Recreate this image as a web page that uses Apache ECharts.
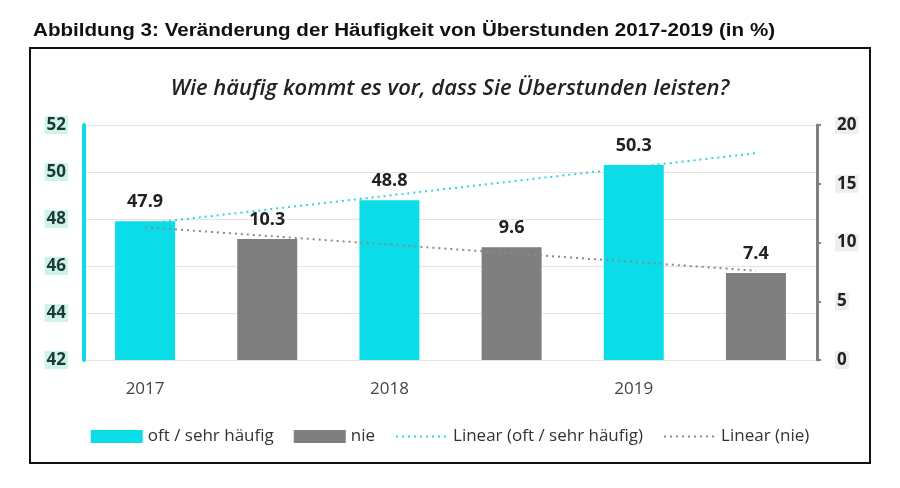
<!DOCTYPE html>
<html>
<head>
<meta charset="utf-8">
<script src="https://cdn.jsdelivr.net/npm/echarts@6/dist/echarts.min.js"></script>
<style>
html,body{margin:0;padding:0;background:#fff;}
#c{width:900px;height:488px;}
</style>
</head>
<body>
<div id="c"></div>
<script>
var categories = ['2017', '', '2018', '', '2019', ''];
var oftValues = [47.9, null, 48.8, null, 50.3, null];
var nieValues = [null, 10.3, null, 9.6, null, 7.4];
var trendOft = [47.8, null, null, null, null, 50.8];
var trendNie = [11.3, null, null, null, null, 7.6];
var leftTicks = [42, 44, 46, 48, 50, 52];
var rightTicks = [0, 5, 10, 15, 20];

var CYAN = '#0ADCE8';
var GRAY = '#7F7F7F';

var chart = echarts.init(document.getElementById('c'), null, {renderer: 'canvas'});
var option = {
  animation: false,
  graphic: [
    {type: 'rect', shape: {x: 30, y: 48, width: 840, height: 415}, style: {fill: 'none', stroke: '#111', lineWidth: 2}, z: 0},
    {type: 'text', x: 33, y: 22, scaleX: 1.145, scaleY: 1,
     style: {text: 'Abbildung 3: Veränderung der Häufigkeit von Überstunden 2017-2019 (in %)',
       font: 'bold 18px "Liberation Sans"', fill: '#111'}}
  ],
  title: [
    {text: 'Wie häufig kommt es vor, dass Sie Überstunden leisten?', left: 'center', top: 73,
     textStyle: {fontFamily: 'Open Sans', fontStyle: 'italic', fontWeight: 600, fontSize: 22, color: '#222'}}
  ],
  legend: {
    left: 'center', top: 423, itemGap: 20, itemWidth: 52, itemHeight: 13,
    textStyle: {fontFamily: 'Open Sans', fontSize: 17, color: '#333'},
    data: [
      {name: 'oft / sehr häufig', icon: 'rect'},
      {name: 'nie', icon: 'rect'},
      {name: 'Linear (oft / sehr häufig)', itemStyle: {opacity: 0}},
      {name: 'Linear (nie)', itemStyle: {opacity: 0}}
    ]
  },
  grid: {left: 84, right: 83, top: 125, bottom: 128},
  xAxis: {
    type: 'category', data: categories,
    axisLine: {show: false}, axisTick: {show: false},
    axisLabel: {interval: 0, margin: 21, fontFamily: 'Open Sans', fontSize: 17, color: '#444'}
  },
  yAxis: [
    {type: 'value', min: 42, max: 52, interval: 2, position: 'left',
     axisLine: {show: true, lineStyle: {color: CYAN, width: 4}},
     axisTick: {show: false},
     splitLine: {show: true, lineStyle: {color: '#e4e4e4', width: 1}},
     axisLabel: {margin: 16, fontFamily: 'Open Sans', fontWeight: 'bold', fontSize: 17, color: '#1c3a32',
       backgroundColor: '#cdf3ec', padding: [1, 2, 0, 2]}},
    {type: 'value', min: 0, max: 20, interval: 5, position: 'right',
     axisLine: {show: true, lineStyle: {color: GRAY, width: 3}},
     axisTick: {show: true, length: 4, lineStyle: {color: GRAY, width: 2}},
     splitLine: {show: false},
     axisLabel: {margin: 18, fontFamily: 'Open Sans', fontWeight: 'bold', fontSize: 17, color: '#222',
       backgroundColor: '#eeeeee', padding: [1, 2, 0, 2]}}
  ],
  series: [
    {name: 'oft / sehr häufig', type: 'bar', yAxisIndex: 0, data: oftValues, barWidth: 60, barGap: '-100%',
     itemStyle: {color: CYAN},
     label: {show: true, position: 'top', distance: 10, fontFamily: 'Open Sans', fontWeight: 'bold', fontSize: 18, color: '#222'}},
    {name: 'nie', type: 'bar', yAxisIndex: 1, data: nieValues, barWidth: 60,
     itemStyle: {color: GRAY},
     label: {show: true, position: 'top', distance: 10, fontFamily: 'Open Sans', fontWeight: 'bold', fontSize: 18, color: '#222'}},
    {name: 'Linear (oft / sehr häufig)', type: 'line', yAxisIndex: 0, data: trendOft, connectNulls: true,
     symbol: 'none', lineStyle: {color: '#2fd3d6', width: 2, type: [2, 4]}, itemStyle: {color: '#2fd3d6'}, z: 5},
    {name: 'Linear (nie)', type: 'line', yAxisIndex: 1, data: trendNie, connectNulls: true,
     symbol: 'none', lineStyle: {color: '#8a8a8a', width: 2, type: [2, 4]}, itemStyle: {color: '#8a8a8a'}, z: 5}
  ]
};
chart.setOption(option);
</script>
</body>
</html>
